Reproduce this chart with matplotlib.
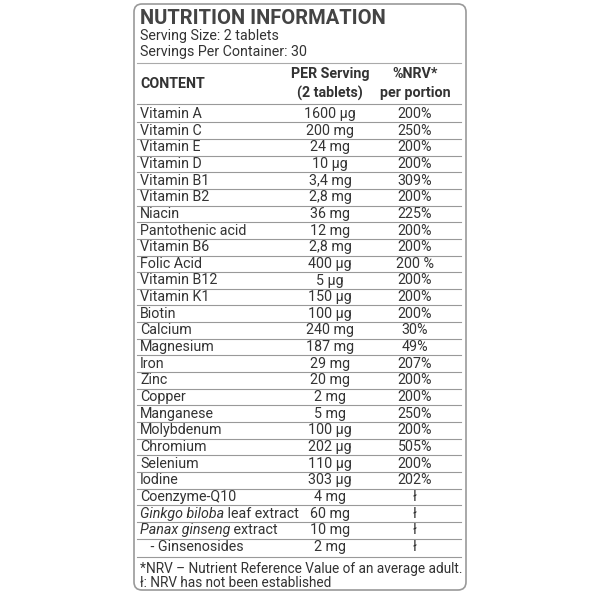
import matplotlib
matplotlib.use("Agg")
import matplotlib.pyplot as plt
from matplotlib.patches import FancyBboxPatch

plt.rcParams['font.family'] = ['Roboto', 'DejaVu Sans']

nutrients = ["Vitamin A","Vitamin C","Vitamin E","Vitamin D","Vitamin B1","Vitamin B2","Niacin",
             "Pantothenic acid","Vitamin B6","Folic Acid","Vitamin B12","Vitamin K1","Biotin","Calcium",
             "Magnesium","Iron","Zinc","Copper","Manganese","Molybdenum","Chromium","Selenium","Iodine"]
amounts = ["1600 µg","200 mg","24 mg","10 µg","3,4 mg","2,8 mg","36 mg","12 mg","2,8 mg","400 µg",
           "5 µg","150 µg","100 µg","240 mg","187 mg","29 mg","20 mg","2 mg","5 mg","100 µg","202 µg",
           "110 µg","303 µg"]
nrv = ["200%","250%","200%","200%","309%","200%","225%","200%","200%","200 %","200%","200%","200%",
       "30%","49%","207%","200%","200%","250%","200%","505%","200%","202%"]
extras = ["Coenzyme-Q10","Ginkgo biloba leaf extract","Panax ginseng extract","   - Ginsenosides"]
extra_amounts = ["4 mg","60 mg","10 mg","2 mg"]

fig = plt.figure(figsize=(6,6), dpi=100)
ax = fig.add_axes([0,0,1,1])
ax.set_xlim(0,600); ax.set_ylim(600,0); ax.axis('off')
col = '#333333'
fs = 10.3
ax.add_patch(FancyBboxPatch((134,4),332,586,boxstyle="round,pad=0,rounding_size=8",
                            fc='white', ec='#999999', lw=1.2))
ax.text(140,18,"NUTRITION INFORMATION",fontsize=14.5,fontweight='bold',color='#444444',va='center')
ax.text(140,36,"Serving Size: 2 tablets",fontsize=fs,color=col,va='center')
ax.text(140,52,"Servings Per Container: 30",fontsize=fs,color=col,va='center')
ax.plot([137,461],[63,63],color='#aaaaaa',lw=0.8)
ax.text(140,84,"CONTENT",fontsize=fs,fontweight='bold',color=col,va='center')
ax.text(330,74,"PER Serving",fontsize=fs,fontweight='bold',color=col,va='center',ha='center')
ax.text(330,93,"(2 tablets)",fontsize=fs,fontweight='bold',color=col,va='center',ha='center')
ax.text(415,74,"%NRV*",fontsize=fs,fontweight='bold',color=col,va='center',ha='center')
ax.text(415,93,"per portion",fontsize=fs,fontweight='bold',color=col,va='center',ha='center')
ax.plot([137,461],[104,104],color='#999999',lw=0.8)

y0, dy = 114, 16.65
for i,(n,a,p) in enumerate(zip(nutrients,amounts,nrv)):
    y = y0+i*dy
    ax.text(140,y,n,fontsize=fs,color=col,va='center')
    ax.text(330,y,a,fontsize=fs,color=col,va='center',ha='center')
    ax.text(415,y,p,fontsize=fs,color=col,va='center',ha='center')
    ax.plot([137,461],[y+dy/2,y+dy/2],color='#999999',lw=0.8)
for j,(n,a) in enumerate(zip(extras,extra_amounts)):
    y = y0+(len(nutrients)+j)*dy
    if j in (1,2):
        words = n.split()
        ital = " ".join(words[:2]); rest = " " + " ".join(words[2:])
        t = ax.text(140,y,ital,fontsize=fs,color=col,va='center',style='italic')
        ax.annotate(rest,xy=(1,0.5),xycoords=t,fontsize=fs,color=col,va='center',ha='left')
    else:
        ax.text(140,y,n,fontsize=fs,color=col,va='center')
    ax.text(330,y,a,fontsize=fs,color=col,va='center',ha='center')
    ax.text(415,y,"ł",fontsize=fs,color=col,va='center',ha='center')
    if j<3:
        ax.plot([137,461],[y+dy/2,y+dy/2],color='#999999',lw=0.8)
ax.plot([137,461],[557,557],color='#999999',lw=0.8)
ax.text(140,569,"*NRV – Nutrient Reference Value of an average adult.",fontsize=9.8,color=col,va='center')
ax.text(140,583,"ł: NRV has not been established",fontsize=9.8,color=col,va='center')
fig.savefig("out.png",dpi=100)
